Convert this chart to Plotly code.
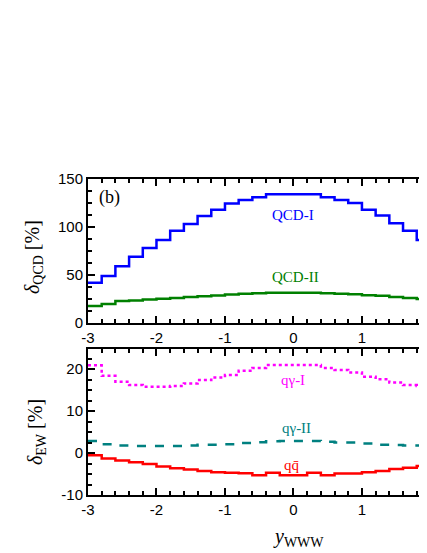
import plotly.graph_objects as go

# ---- data ----
bin_left = [-3.0, -2.8, -2.6, -2.4, -2.2, -2.0, -1.8, -1.6, -1.4, -1.2,
            -1.0, -0.8, -0.6, -0.4, -0.2, 0.0, 0.2, 0.4, 0.6, 0.8,
            1.0, 1.2, 1.4, 1.6, 1.8]
bin_width = 0.2

qcd_I = [42, 49, 59, 69, 78, 86.5, 96, 103, 111.5, 118,
         124.5, 128, 131, 134, 134, 134, 134, 131, 128, 125,
         118, 112, 104, 96, 86.5]
qcd_II = [17.7, 19.8, 23, 23.5, 24.5, 25.3, 26, 27, 27.8, 28.7,
          29.8, 30.5, 31, 31.5, 31.5, 31.5, 31.5, 31, 30.5, 30,
          29, 28.3, 27, 26, 25]

qgam_I = [20.9, 18.4, 17.0, 16.2, 15.8, 15.8, 16.0, 16.6, 17.4, 18.0,
          18.6, 19.6, 20.3, 21.0, 21.0, 21.0, 21.0, 20.3, 19.8, 19.2,
          18.2, 17.6, 16.8, 16.2, 16.0]
qgam_II = [2.9, 2.1, 1.8, 1.7, 1.7, 1.7, 1.7, 1.8, 2.0, 2.0,
           2.1, 2.4, 2.6, 2.8, 2.9, 2.9, 2.9, 2.7, 2.5, 2.5,
           2.3, 2.0, 1.9, 1.8, 1.8]
qqbar = [-0.5, -1.3, -1.8, -2.2, -2.6, -3.2, -3.6, -3.9, -4.3, -4.6,
         -4.7, -4.8, -5.3, -4.7, -5.3, -5.3, -4.7, -5.3, -4.9, -4.9,
         -4.6, -4.3, -3.8, -3.5, -3.1]

x_ticks = [-3, -2, -1, 0, 1]
x_ticklabels = ["-3", "-2", "-1", "0", "1"]
top_yticks = [0, 50, 100, 150]
top_yticklabels = ["0", "50", "100", "150"]
bot_yticks = [-10, 0, 10, 20]
bot_yticklabels = ["-10", "0", "10", "20"]


def step(vals):
    xs = bin_left + [bin_left[-1] + bin_width]
    ys = list(vals) + [vals[-1]]
    return xs, ys


fig = go.Figure()

series = [
    (qcd_I, "#0000ff", "solid", "x", "y"),
    (qcd_II, "#008000", "solid", "x", "y"),
    (qgam_I, "#ff00ff", "dot", "x2", "y2"),
    (qgam_II, "#008080", "dash", "x2", "y2"),
    (qqbar, "#ff0000", "solid", "x2", "y2"),
]
for vals, col, dash, xa, ya in series:
    xs, ys = step(vals)
    fig.add_trace(go.Scatter(x=xs, y=ys, mode="lines", line_shape="hv",
                             line=dict(color=col, width=2.5, dash=dash),
                             xaxis=xa, yaxis=ya, showlegend=False,
                             hoverinfo="skip"))

# page has an 8px body margin: figure drawn at (8, 8)
OFF = 8
W, H = 427 - OFF, 553 - OFF


def px(x):
    return (x - OFF) / W


def py(y):
    return 1 - (y - OFF) / H


xdom = [px(88), 1.0]
top_dom = [py(323), py(179)]
bot_dom = [py(495), py(349)]

tickfont = dict(family="Liberation Sans, Arial", size=15, color="black")

common_x = dict(range=[-3, 1.95], tickmode="array", tickvals=x_ticks,
                ticktext=x_ticklabels,
                ticks="inside", ticklen=7, tickwidth=1.5, tickcolor="black",
                showline=True, linecolor="black", linewidth=2,
                mirror="allticks", showgrid=False, zeroline=False,
                tickfont=tickfont, automargin=False,
                minor=dict(ticks="inside", dtick=0.2, ticklen=4,
                           tickwidth=1.5, tickcolor="black", showgrid=False))
common_y = dict(ticks="inside", ticklen=7, tickwidth=1.5, tickcolor="black",
                showline=True, linecolor="black", linewidth=2,
                mirror=False, showgrid=False, zeroline=False,
                tickfont=tickfont, automargin=False, tickmode="array")

fig.update_layout(
    width=W, height=H,
    margin=dict(l=0, r=0, t=0, b=0),
    paper_bgcolor="white", plot_bgcolor="white",
    xaxis=dict(domain=xdom, anchor="y", **common_x),
    yaxis=dict(domain=top_dom, anchor="x", range=[0, 150],
               tickvals=top_yticks, ticktext=top_yticklabels,
               minor=dict(ticks="inside", dtick=12.5, ticklen=4,
                          tickwidth=1.5, tickcolor="black", showgrid=False),
               **common_y),
    xaxis2=dict(domain=xdom, anchor="y2", **common_x),
    yaxis2=dict(domain=bot_dom, anchor="x2", range=[-10, 24.8],
                tickvals=bot_yticks, ticktext=bot_yticklabels,
                minor=dict(ticks="inside", dtick=2.5, ticklen=4,
                           tickwidth=1.5, tickcolor="black", showgrid=False),
                **common_y),
)

serif = "Liberation Serif, Times New Roman"
labels = [
    ("(b)", -2.69, 131, "x", "y", "black", 18),
    ("QCD-I", 0.0, 112.5, "x", "y", "#0000ff", 15),
    ("QCD-II", 0.03, 48, "x", "y", "#008000", 15),
    ("qγ-I", 0.0, 17.4, "x2", "y2", "#ff00ff", 15),
    ("qγ-II", 0.04, 6.0, "x2", "y2", "#008080", 15),
    ("qq\u0304", -0.02, -2.9, "x2", "y2", "#ff0000", 15),
]
for txt, x, y, xr, yr, col, sz in labels:
    fig.add_annotation(text=txt, x=x, y=y, xref=xr, yref=yr, showarrow=False,
                       xanchor="center", yanchor="middle",
                       font=dict(family=serif, size=sz, color=col))

titles = [
    ("<i>δ</i><sub>QCD</sub> [%]", 34, 257, -90),
    ("<i>δ</i><sub>EW</sub> [%]", 36, 432, -90),
    ("<i>y</i><sub>WWW</sub>", 298, 537, 0),
]
for txt, xp, yp, ang in titles:
    fig.add_annotation(text=txt, x=px(xp), y=py(yp), xref="paper", yref="paper",
                       showarrow=False, textangle=ang,
                       xanchor="center", yanchor="middle",
                       font=dict(family=serif, size=20, color="black"))

fig.write_html("out.html")
